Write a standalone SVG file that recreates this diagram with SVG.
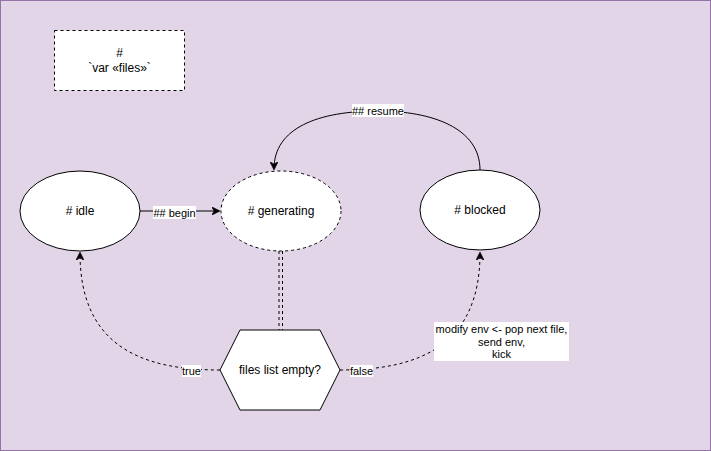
<svg xmlns="http://www.w3.org/2000/svg" width="711" height="451" viewBox="0 0 711 451">
<defs>
<marker id="arr" viewBox="0 0 10 10" refX="9" refY="5" markerWidth="8" markerHeight="8" orient="auto" markerUnits="userSpaceOnUse">
<path d="M0,0 L10,5 L0,10 L3,5 Z" fill="#000" stroke="#000" stroke-width="1"/>
</marker>
<style>
.node{fill:#fff;stroke:#000;stroke-width:1}
.dash{stroke-dasharray:3 3}
.t{font-family:"Liberation Sans",Arial,sans-serif;font-size:12px;fill:#000;text-anchor:middle}
.l{font-family:"Liberation Sans",Arial,sans-serif;font-size:11px;fill:#000;text-anchor:middle}
.e{fill:none;stroke:#000;stroke-width:1}
.lb{fill:#fff}
</style>
</defs>
<rect x="0.5" y="0.5" width="710" height="450" fill="#e1d5e7" stroke="#9673a6" stroke-width="1"/>
<g id="connectors">
<path class="e" d="M140,211 L219,211" marker-end="url(#arr)"/>
<path class="e" d="M480,170 C480,128 432,111 378,111 C318,111 274,128 274,169" marker-end="url(#arr)"/>
<line class="e dash" x1="279" y1="251" x2="279" y2="330"/>
<line class="e dash" x1="282.5" y1="251" x2="282.5" y2="330"/>
<path class="e dash" d="M220,370 C140,370 80,345 80,253" marker-end="url(#arr)"/>
<path class="e dash" d="M340,370 C420,370 480,345 480,253" marker-end="url(#arr)"/>
<rect class="lb" x="153" y="206" width="43" height="13"/>
<text class="l" x="174.5" y="216.5">## begin</text>
<rect class="lb" x="352" y="104" width="52" height="13"/>
<text class="l" x="378" y="114.5">## resume</text>
<rect class="lb" x="182" y="365" width="19" height="12"/>
<text class="l" x="191.5" y="375">true</text>
<rect class="lb" x="350" y="365" width="23" height="12"/>
<text class="l" x="361.5" y="375">false</text>
<rect class="lb" x="434" y="322" width="135" height="39"/>
<text class="l" x="501.5" y="333">modify env &lt;- pop next file,</text>
<text class="l" x="501.5" y="345.5">send env,</text>
<text class="l" x="501.5" y="358">kick</text>
</g>
<g id="var-files">
<rect class="node dash" x="54.5" y="30.5" width="130" height="60"/>
<text class="t" x="119.5" y="57">#</text>
<text class="t" x="119.5" y="72">`var «files»`</text>
</g>
<g id="idle">
<ellipse class="node" cx="80" cy="211" rx="60" ry="40"/>
<text class="t" x="80" y="215"># idle</text>
</g>
<g id="generating">
<ellipse class="node dash" cx="281" cy="211" rx="60" ry="40"/>
<text class="t" x="281" y="215"># generating</text>
</g>
<g id="blocked">
<ellipse class="node" cx="480" cy="210" rx="60" ry="40"/>
<text class="t" x="480" y="214"># blocked</text>
</g>
<g id="files-list-empty">
<polygon class="node" points="220,370 240,330 320,330 340,370 320,410 240,410"/>
<text class="t" x="280" y="374">files list empty?</text>
</g>
</svg>
